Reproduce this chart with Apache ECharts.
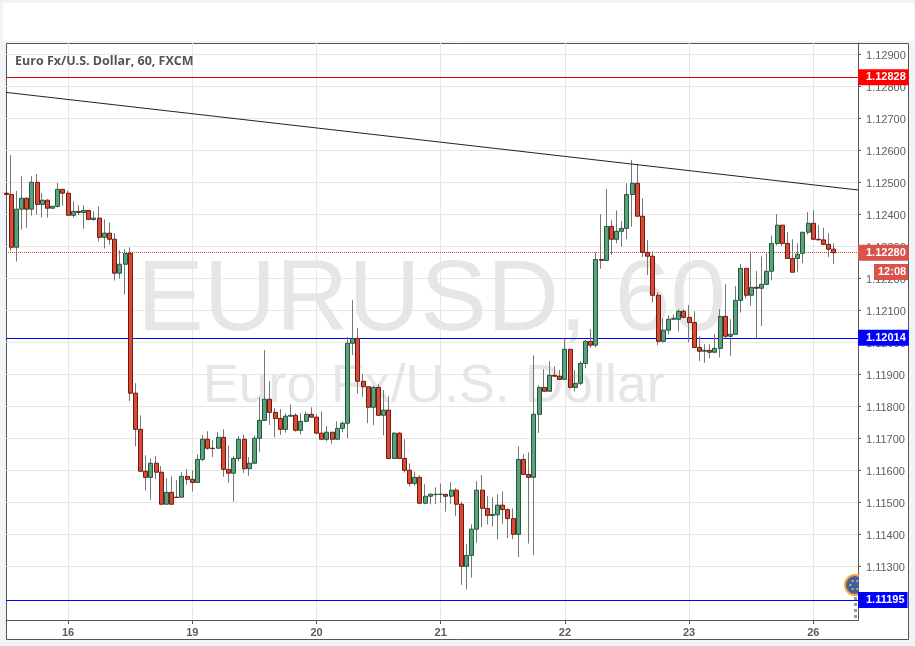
<!DOCTYPE html>
<html><head><meta charset="utf-8">
<style>html,body{margin:0;padding:0;background:#f0f4f8}#c{width:915px;height:646px}</style>
<script src="https://cdn.jsdelivr.net/npm/echarts@6/dist/echarts.min.js"></script>
</head><body><div id="c"></div>
<script>
const opens=[1.12466,1.12462,1.12297,1.12416,1.12450,1.12416,1.12500,1.12431,1.12444,1.12419,
1.12425,1.12478,1.12466,1.12397,1.12409,1.12406,1.12412,1.12384,1.12388,1.12328,
1.12341,1.12322,1.12216,1.12244,1.12278,1.11841,1.11728,1.11597,1.11578,1.11622,
1.11594,1.11494,1.11531,1.11516,1.11516,1.11581,1.11572,1.11562,1.11634,1.11697,
1.11669,1.11669,1.11703,1.11603,1.11591,1.11637,1.11697,1.11605,1.11622,1.11700,
1.11756,1.11822,1.11781,1.11762,1.11728,1.11769,1.11772,1.11725,1.11753,1.11775,
1.11766,1.11716,1.11697,1.11719,1.11697,1.11731,1.11747,1.11997,1.12012,1.11878,
1.11861,1.11797,1.11859,1.11772,1.11788,1.11637,1.11716,1.11637,1.11600,1.11559,
1.11578,1.11497,1.11519,1.11524,1.11525,1.11525,1.11519,1.11538,1.11494,1.11300,
1.11334,1.11416,1.11538,1.11481,1.11459,1.11461,1.11491,1.11477,1.11449,1.11400,
1.11634,1.11587,1.11578,1.11775,1.11859,1.11847,1.11897,1.11894,1.11884,1.11978,
1.11859,1.11872,1.11934,1.12003,1.11991,1.12259,1.12256,1.12362,1.12322,1.12347,
1.12356,1.12462,1.12497,1.12394,1.12281,1.12269,1.12147,1.12003,1.12038,1.12072,
1.12072,1.12097,1.12078,1.12062,1.11984,1.11972,1.11975,1.11969,1.11981,1.12081,
1.12019,1.12025,1.12131,1.12231,1.12147,1.12172,1.12169,1.12181,1.12222,1.12309,
1.12366,1.12309,1.12262,1.12262,1.12278,1.12344,1.12372,1.12322,1.12320,1.12306,
1.12291];
const closes=[1.12462,1.12297,1.12416,1.12450,1.12416,1.12500,1.12431,1.12444,1.12419,1.12425,
1.12478,1.12466,1.12397,1.12409,1.12406,1.12412,1.12384,1.12388,1.12328,1.12341,
1.12322,1.12216,1.12244,1.12278,1.11841,1.11728,1.11597,1.11578,1.11622,1.11594,
1.11494,1.11531,1.11494,1.11515,1.11581,1.11572,1.11562,1.11634,1.11697,1.11669,
1.11668,1.11703,1.11603,1.11591,1.11637,1.11697,1.11605,1.11622,1.11700,1.11756,
1.11822,1.11781,1.11762,1.11728,1.11769,1.11772,1.11725,1.11753,1.11775,1.11766,
1.11716,1.11697,1.11719,1.11697,1.11731,1.11747,1.11997,1.12012,1.11878,1.11861,
1.11797,1.11859,1.11772,1.11788,1.11637,1.11716,1.11637,1.11600,1.11559,1.11578,
1.11497,1.11519,1.11525,1.11525,1.11525,1.11519,1.11538,1.11494,1.11300,1.11334,
1.11416,1.11538,1.11481,1.11459,1.11462,1.11491,1.11477,1.11449,1.11400,1.11634,
1.11587,1.11578,1.11775,1.11859,1.11847,1.11897,1.11894,1.11884,1.11978,1.11859,
1.11872,1.11934,1.12003,1.11991,1.12259,1.12256,1.12362,1.12322,1.12347,1.12356,
1.12462,1.12497,1.12394,1.12281,1.12269,1.12147,1.12003,1.12038,1.12072,1.12075,
1.12097,1.12078,1.12062,1.11984,1.11972,1.11975,1.11969,1.11981,1.12081,1.12019,
1.12025,1.12131,1.12231,1.12147,1.12172,1.12169,1.12181,1.12222,1.12309,1.12366,
1.12309,1.12262,1.12219,1.12275,1.12344,1.12372,1.12322,1.12320,1.12306,1.12291,
1.12280];
const lows=[1.12462,1.12286,1.12252,1.12352,1.12358,1.12396,1.12399,1.12390,1.12390,1.12419,
1.12421,1.12427,1.12397,1.12390,1.12397,1.12355,1.12384,1.12380,1.12315,1.12293,
1.12305,1.12193,1.12199,1.12149,1.11816,1.11675,1.11597,1.11537,1.11508,1.11572,
1.11494,1.11494,1.11494,1.11515,1.11516,1.11556,1.11534,1.11562,1.11628,1.11664,
1.11641,1.11669,1.11580,1.11561,1.11502,1.11628,1.11591,1.11583,1.11622,1.11658,
1.11756,1.11742,1.11703,1.11711,1.11718,1.11769,1.11721,1.11712,1.11751,1.11766,
1.11716,1.11697,1.11691,1.11683,1.11697,1.11719,1.11700,1.11960,1.11839,1.11830,
1.11747,1.11741,1.11772,1.11709,1.11637,1.11637,1.11637,1.11593,1.11549,1.11552,
1.11497,1.11494,1.11494,1.11494,1.11498,1.11471,1.11495,1.11457,1.11242,1.11227,
1.11265,1.11373,1.11423,1.11431,1.11424,1.11385,1.11432,1.11388,1.11385,1.11329,
1.11587,1.11371,1.11335,1.11717,1.11847,1.11847,1.11894,1.11884,1.11884,1.11856,
1.11846,1.11866,1.11919,1.11983,1.11984,1.12230,1.12256,1.12273,1.12309,1.12299,
1.12322,1.12361,1.12394,1.12266,1.12210,1.12124,1.11991,1.11999,1.12025,1.12072,
1.12034,1.12075,1.12000,1.11984,1.11941,1.11936,1.11950,1.11966,1.11953,1.12012,
1.11957,1.12025,1.12093,1.12137,1.12114,1.12012,1.12051,1.12181,1.12194,1.12303,
1.12301,1.12262,1.12219,1.12219,1.12247,1.12337,1.12319,1.12320,1.12304,1.12266,
1.12245];
const highs=[1.12466,1.12585,1.12473,1.12519,1.12453,1.12519,1.12526,1.12466,1.12447,1.12426,
1.12498,1.12478,1.12474,1.12441,1.12428,1.12428,1.12412,1.12410,1.12425,1.12384,
1.12375,1.12341,1.12288,1.12291,1.12297,1.11872,1.11772,1.11647,1.11637,1.11644,
1.11613,1.11575,1.11581,1.11569,1.11594,1.11603,1.11600,1.11650,1.11710,1.11722,
1.11694,1.11719,1.11728,1.11677,1.11644,1.11707,1.11712,1.11641,1.11709,1.11828,
1.11976,1.11879,1.11794,1.11791,1.11778,1.11806,1.11778,1.11778,1.11783,1.11797,
1.11775,1.11784,1.11739,1.11719,1.11753,1.11753,1.12016,1.12132,1.12044,1.11901,
1.11862,1.11864,1.11869,1.11851,1.11832,1.11720,1.11719,1.11697,1.11622,1.11596,
1.11585,1.11557,1.11528,1.11547,1.11559,1.11525,1.11563,1.11544,1.11502,1.11370,
1.11431,1.11566,1.11585,1.11519,1.11516,1.11525,1.11534,1.11481,1.11481,1.11675,
1.11650,1.11656,1.11959,1.11866,1.11916,1.11941,1.11925,1.11914,1.12012,1.11981,
1.11914,1.11941,1.12007,1.12041,1.12281,1.12400,1.12479,1.12382,1.12412,1.12379,
1.12497,1.12570,1.12557,1.12450,1.12320,1.12284,1.12156,1.12075,1.12085,1.12086,
1.12103,1.12103,1.12117,1.12097,1.12019,1.11994,1.11994,1.12026,1.12104,1.12181,
1.12072,1.12176,1.12245,1.12231,1.12284,1.12223,1.12268,1.12278,1.12334,1.12401,
1.12366,1.12344,1.12322,1.12309,1.12344,1.12407,1.12413,1.12366,1.12358,1.12341,
1.12309];
const dayPositions=[12,36,60,84,108,132,156];
const dayLabels=['16','19','20','21','22','23','26'];
const priceTicks=[1.129,1.128,1.127,1.126,1.125,1.124,1.123,1.122,1.121,1.12,1.119,1.118,1.117,1.116,1.115,1.114,1.113];
const resistance=1.12828, midLevel=1.12014, support=1.11195, lastPrice=1.1228;
const trendX=[0,164.64], trendY=[1.12781,1.12476];

const font='"Liberation Sans",Arial,sans-serif';
const wickRows=opens.map((o,i)=>[i,o,closes[i],lows[i],highs[i]]);
const bodyRows=opens.map((o,i)=>[i,o,closes[i],Math.min(o,closes[i]),Math.max(o,closes[i])]);
const tag=(bg)=>({show:true,position:'end',distance:0,color:'#fff',fontFamily:font,fontWeight:'bold',fontSize:11,
  lineHeight:12,backgroundColor:bg,padding:[2,3,2,8],formatter:p=>p.value.toFixed(5)});
const level=(v,c,bg,type)=>({yAxis:v,lineStyle:{color:c,width:1,type:type||'solid'},label:tag(bg)});

const chart=echarts.init(document.getElementById('c'),null,{renderer:'canvas'});
const dots=[0,60,120,180,240,300].map(a=>({type:'circle',z:1,shape:{cx:855+4.6*Math.cos(a*Math.PI/180),cy:585+4.6*Math.sin(a*Math.PI/180),r:1},style:{fill:'#f2c94c'},silent:true}));
chart.setOption({
  animation:false,
  backgroundColor:'#f0f4f8',
  graphic:{elements:[
    {type:'rect',z:-20,shape:{x:3,y:3,width:911,height:38},style:{fill:'#fff'},silent:true},
    {type:'rect',z:-20,shape:{x:6.5,y:43.5,width:902,height:596},style:{fill:'#fff',stroke:'#555',lineWidth:1},silent:true},
    {type:'text',z:-10,x:137,y:302,style:{text:'EURUSD, 60',fontFamily:font,fontSize:100,fill:'#e6e6e6',verticalAlign:'middle'},silent:true},
    {type:'text',z:-10,x:203,y:387,style:{text:'Euro Fx/U.S. Dollar',fontFamily:font,fontSize:53.6,fill:'#e6e6e6',verticalAlign:'middle'},silent:true},
    {type:'text',z:6,x:15,y:61,style:{text:'Euro Fx/U.S. Dollar, 60, FXCM',fontFamily:'"Open Sans",sans-serif',fontWeight:'bold',fontSize:12.5,fill:'#555',verticalAlign:'middle'},silent:true},
    {type:'line',z:1,shape:{x1:855.5,y1:597,x2:855.5,y2:620},style:{stroke:'#999',lineWidth:3,lineDash:[3,3]},silent:true},
    {type:'circle',z:1,shape:{cx:855,cy:585,r:10},style:{fill:'#41609f',stroke:'#f5a53a',lineWidth:2},silent:true},
    ...dots,
    {type:'rect',z:1,shape:{x:859,y:573,width:14,height:20},style:{fill:'#fff'},silent:true},
    {type:'text',z:6,x:874,y:264,style:{text:'12:08',fontFamily:font,fontWeight:'bold',fontSize:11,lineHeight:12,fill:'#fff',backgroundColor:'#d9534a',padding:[2,4,2,4],width:26},silent:true}
  ]},
  grid:{left:6,right:57,top:43,bottom:26,show:false},
  xAxis:{type:'value',min:0,max:164.64,position:'bottom',
    axisLine:{onZero:false,lineStyle:{color:'#555',width:1}},
    axisTick:{customValues:dayPositions,length:4,lineStyle:{color:'#555'}},
    axisLabel:{customValues:dayPositions,margin:7,color:'#5c5c5c',fontFamily:font,fontSize:11,fontWeight:'bold',
      formatter:v=>dayLabels[dayPositions.indexOf(v)]||''},
    splitLine:{show:true,lineStyle:{color:'#e6e6e6',width:1}}},
  yAxis:{type:'value',position:'right',min:1.111322,max:1.129353,
    axisLine:{show:true,onZero:false,lineStyle:{color:'#555',width:1}},
    axisTick:{show:true,customValues:priceTicks,length:3,lineStyle:{color:'#555'}},
    axisLabel:{customValues:priceTicks,margin:8,formatter:v=>'{p|'+v.toFixed(5)+'}',
      rich:{p:{color:'#5c5c5c',fontFamily:font,fontSize:11,padding:[4,0,0,0]}}},
    splitLine:{show:true,lineStyle:{color:'#e6e6e6',width:1}}},
  series:[
    {type:'candlestick',name:'wicks',silent:true,encode:{x:0,y:[1,2,3,4]},data:wickRows,barWidth:1,
      itemStyle:{color:'#777',color0:'#777',borderColor:'#777',borderColor0:'#777',borderColorDoji:'#777',borderWidth:1},
      markLine:{silent:true,symbol:'none',animation:false,precision:5,z:2,data:[
        level(lastPrice,'#c9483c','#d9534a','dotted'),
        level(resistance,'#e00000','#ff0000'),
        level(midLevel,'#0000ff','#0000ff'),
        level(support,'#0000ff','#0000ff')
      ]}},
    {type:'candlestick',name:'EURUSD',silent:true,z:3,encode:{x:0,y:[1,2,3,4]},data:bodyRows,barWidth:4.5,
      itemStyle:{color:'#5f9f7d',color0:'#d94b37',borderColor:'#1d5a3c',borderColor0:'#6e1a10',borderColorDoji:'#1d5a3c',borderWidth:1}},
    {type:'line',name:'trend',silent:true,z:4,data:trendX.map((x,i)=>[x,trendY[i]]),showSymbol:false,lineStyle:{color:'#222',width:1}}
  ]
});
</script></body></html>
